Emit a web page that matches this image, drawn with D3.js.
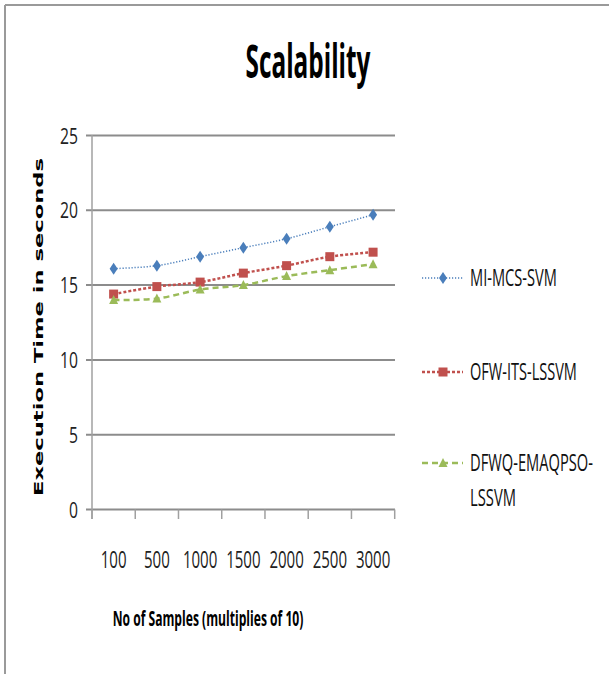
<!DOCTYPE html>
<html><head><meta charset="utf-8">
<script src="https://cdn.jsdelivr.net/npm/d3@7"></script>
<style>body{margin:0;background:#fff}svg{display:block}</style>
</head><body>
<svg id="c" width="609" height="674"></svg>
<script>
const categories = ["100","500","1000","1500","2000","2500","3000"];
const miMcsSvm = [16.1,16.3,16.9,17.5,18.1,18.9,19.7];
const ofwItsLssvm = [14.4,14.9,15.2,15.8,16.3,16.9,17.2];
const dfwqEmaqpsoLssvm = [14.0,14.1,14.7,15.0,15.6,16.0,16.4];
const yTicks = [0,5,10,15,20,25];
const seriesNames = ["MI-MCS-SVM","OFW-ITS-LSSVM","DFWQ-EMAQPSO-LSSVM"];

const font = "'Open Sans',sans-serif";
const svg = d3.select("#c");

// condensed text helper: natural text squeezed horizontally to width w
function ctext(parent, o){
  const g = parent.append("g");
  const t = g.append("text").attr("font-family",o.family||font).attr("font-size",o.size)
    .attr("font-weight",o.weight||"normal").attr("fill",o.fill||"#222").attr("text-anchor",o.anchor||"start").text(o.text);
  const nat = t.node().getComputedTextLength();
  const sx = o.w / nat;
  g.attr("transform",`translate(${o.x},${o.y})${o.rotate?` rotate(${o.rotate})`:""} scale(${sx},1)`);
  return g;
}

// frame
svg.append("line").attr("x1",5).attr("x2",609).attr("y1",5).attr("y2",5).attr("stroke","#9a9a9a").attr("stroke-width",2);
svg.append("line").attr("x1",5).attr("x2",5).attr("y1",5).attr("y2",674).attr("stroke","#9a9a9a").attr("stroke-width",2);

const x = d3.scaleBand().domain(categories).range([92,394.7]).padding(0);
const y = d3.scaleLinear().domain([0,25]).range([509.5,135.5]);

// gridlines
svg.append("g").selectAll("line").data(yTicks).join("line")
  .attr("x1",86).attr("x2",395).attr("y1",d=>y(d)).attr("y2",d=>y(d))
  .attr("stroke","#8c8c8c").attr("stroke-width",2);
// y axis line
svg.append("line").attr("x1",92).attr("x2",92).attr("y1",135).attr("y2",519).attr("stroke","#a0a0a0").attr("stroke-width",1.5);
// x ticks at band boundaries
const bounds = categories.map(c=>x(c)).concat([x.range()[1]]);
svg.append("g").selectAll("line").data(bounds).join("line")
  .attr("x1",d=>d).attr("x2",d=>d).attr("y1",509.5).attr("y2",519)
  .attr("stroke","#a0a0a0").attr("stroke-width",1.5);

// y tick labels
yTicks.forEach(d=>ctext(svg,{x:78,y:y(d)+8,text:String(d),size:22,anchor:"end",w:String(d).length*9}));
// x tick labels
categories.forEach(d=>ctext(svg,{x:x(d)+x.bandwidth()/2,y:568,text:d,size:24,anchor:"middle",w:d.length*8.6}));

// title
ctext(svg,{x:308,y:78,text:"Scalability",size:46,weight:"bold",anchor:"middle",fill:"#000",w:125});
// x title
ctext(svg,{x:208,y:626,text:"No of Samples (multiplies of 10)",size:21,weight:"bold",anchor:"middle",fill:"#000",w:191});
// y title
svg.append("text").attr("transform","translate(43,327) rotate(-90)").attr("text-anchor","middle")
  .attr("font-family","'DejaVu Sans',sans-serif").attr("font-weight","bold").attr("font-size",13).attr("fill","#000")
  .attr("textLength",338).attr("lengthAdjust","spacingAndGlyphs").text("Execution Time in seconds");

const cx = i => x(categories[i]) + x.bandwidth()/2;
const series = [
  {name:seriesNames[0], vals:miMcsSvm, color:"#4a7ebb", dash:"1.2,1.8", w:1.5, shape:"diamond"},
  {name:seriesNames[1], vals:ofwItsLssvm, color:"#c0504d", dash:"3,2", w:2.5, shape:"square"},
  {name:seriesNames[2], vals:dfwqEmaqpsoLssvm, color:"#9bbb59", dash:"6,4", w:2.5, shape:"triangle"}
];
const line = d3.line().x((d,i)=>cx(i)).y(d=>y(d)).curve(d3.curveCatmullRom.alpha(0.5));

function marker(g, shape, color, px, py){
  if(shape==="diamond"){
    g.append("path").attr("d",`M${px},${py-6}L${px+4},${py}L${px},${py+6}L${px-4},${py}Z`).attr("fill",color);
  } else if(shape==="square"){
    g.append("rect").attr("x",px-4.5).attr("y",py-4.5).attr("width",9).attr("height",9).attr("fill",color);
  } else {
    g.append("path").attr("d",`M${px},${py-5}L${px+4.5},${py+4}L${px-4.5},${py+4}Z`).attr("fill",color);
  }
}

series.forEach(s=>{
  svg.append("path").datum(s.vals).attr("d",line).attr("fill","none")
    .attr("stroke",s.color).attr("stroke-width",s.w).attr("stroke-dasharray",s.dash);
  const g = svg.append("g");
  s.vals.forEach((v,i)=>marker(g,s.shape,s.color,cx(i),y(v)));
});

// legend
const legY = [278, 372, 463];
series.forEach((s,i)=>{
  svg.append("line").attr("x1",422).attr("x2",463).attr("y1",legY[i]).attr("y2",legY[i])
    .attr("stroke",s.color).attr("stroke-width",s.w).attr("stroke-dasharray",s.dash);
  marker(svg.append("g"),s.shape,s.color,443,legY[i]);
});
const legItems = [
  {t:"MI-MCS-SVM", y:278, w:87},
  {t:"OFW-ITS-LSSVM", y:372, w:107},
  {t:"DFWQ-EMAQPSO-", y:463, w:123},
  {t:"LSSVM", y:498, w:46}
];
legItems.forEach(d=>ctext(svg,{x:470,y:d.y+8,text:d.t,size:23,fill:"#111",w:d.w}));
</script>
</body></html>
